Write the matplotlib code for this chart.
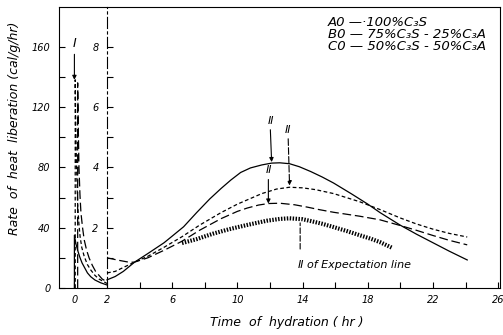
import numpy as np
import matplotlib
matplotlib.use("Agg")
import matplotlib.pyplot as plt
from matplotlib.ticker import FixedLocator

plt.rcParams['font.family'] = 'DejaVu Sans'
plt.rcParams['font.style'] = 'italic'

# ---- early period (0-2 hr), left scale (cal/g/hr)
t_a_early = [0, 0, 0.1, 0.2, 0.33, 0.47, 0.65, 0.8, 1.0, 1.26, 1.6, 2.0]
a_early = [0, 35, 29, 25, 20.5, 16.6, 13, 10, 7.5, 5.3, 3.5, 2]
t_b_early = [0.05, 0.05, 0.08, 0.12, 0.2, 0.28, 0.35, 0.45, 0.6, 0.8, 1.0,
             1.25, 1.5, 2.0]
b_early = [0, 138, 110, 85, 55, 42, 34, 27, 21, 15.5, 12, 8.5, 6, 3]
t_c_early = [0.2, 0.2, 0.24, 0.28, 0.34, 0.4, 0.5, 0.6, 0.75, 0.9, 1.1, 1.3,
             1.7, 2.0]
c_early = [0, 136, 105, 80, 62, 50, 40, 32, 25, 20, 15, 11, 6, 4]

# ---- later period (2-24 hr), inner scale
t_a = [2.0, 2.5, 3.0, 3.7, 4.5, 5.5, 6.0, 6.7, 7.5, 8.3, 9.0, 9.6, 10.2,
       10.8, 11.5, 12.1, 12.6, 13.2, 13.8, 14.5, 15.2, 15.9, 17.0, 18.0,
       18.75, 20.0, 21.0, 22.0, 23.0, 24.1]
a_late = [0.27, 0.38, 0.55, 0.86, 1.14, 1.5, 1.72, 2.03, 2.5, 2.95, 3.3,
          3.58, 3.83, 3.98, 4.08, 4.14, 4.15, 4.12, 4.02, 3.86, 3.68, 3.48,
          3.12, 2.78, 2.5, 2.08, 1.78, 1.5, 1.22, 0.93]
t_b = [2.0, 2.5, 3.0, 3.7, 4.5, 5.5, 6.6, 7.7, 9.0, 10.0, 10.6, 11.5, 12.4,
       13.2, 14.0, 14.8, 15.9, 17.5, 18.75, 20.0, 21.0, 22.0, 23.0, 24.1]
b_late = [0.5, 0.55, 0.68, 0.86, 1.05, 1.35, 1.7, 2.09, 2.5, 2.78, 2.92, 3.13,
          3.28, 3.34, 3.32, 3.26, 3.13, 2.86, 2.6, 2.32, 2.12, 1.95, 1.81,
          1.69]
t_c = [2.0, 2.7, 3.4, 3.7, 4.5, 5.5, 6.6, 7.7, 9.0, 10.0, 10.6, 11.3, 11.9,
       12.6, 13.5, 14.3, 15.0, 15.9, 17.5, 18.75, 20.0, 21.0, 22.0, 23.0,
       24.1]
c_late = [1.0, 0.92, 0.85, 0.86, 1.0, 1.25, 1.55, 1.92, 2.3, 2.54, 2.65, 2.75,
          2.8, 2.81, 2.76, 2.68, 2.6, 2.51, 2.38, 2.26, 2.07, 1.91, 1.74,
          1.58, 1.43]
t_exp = [6.6, 7.5, 8.5, 9.5, 10.6, 11.8, 12.6, 13.2, 14.0, 14.5, 15.2, 15.9,
         16.7, 17.5, 18.2, 18.75, 19.5]
exp_line = [1.49, 1.62, 1.8, 1.95, 2.09, 2.23, 2.29, 2.31, 2.28, 2.22, 2.13,
            2.02, 1.89, 1.75, 1.63, 1.52, 1.33]

legend_lines = ["A0 —·100%C₃S", "B0 — 75%C₃S - 25%C₃A",
                "C0 — 50%C₃S - 50%C₃A"]

xticks = [0, 2, 6, 10, 14, 18, 22, 26]
xminor = [4, 8, 12, 16, 20, 24]
yticks = [0, 40, 80, 120, 160]
yminor = [20, 60, 100, 140]
inner_ticks = [2, 4, 6, 8]
inner_minor = [1, 3, 5, 7]

fig = plt.figure(figsize=(5.03, 3.35), dpi=100)
ax = fig.add_axes([0.1173, 0.1403, 0.8767, 0.8388])
ax.set_xlim(-0.945, 26.11)
ax.set_ylim(0, 186.3)

solid = '-'
short_dash = (0, (3, 2))
long_dash = (0, (7, 3))

ax.plot(t_a_early, a_early, color='k', lw=0.9, ls=solid)
ax.plot(t_b_early, b_early, color='k', lw=0.9, ls=short_dash)
ax.plot(t_c_early, c_early, color='k', lw=0.9, ls=long_dash)

ax2 = ax.twinx()
ax2.set_ylim(0, 186.3 / 20)
ax2.plot(t_a, a_late, color='k', lw=0.9, ls=solid)
ax2.plot(t_b, b_late, color='k', lw=0.9, ls=short_dash)
ax2.plot(t_c, c_late, color='k', lw=0.9, ls=long_dash)
ax2.plot(t_exp, exp_line, color='k', lw=3.0, ls=(0, (0.35, 0.35)))

for s in ['top', 'bottom', 'right']:
    ax2.spines[s].set_visible(False)
ax2.spines['left'].set_visible(True)
ax2.spines['left'].set_position(('data', 2))
ax2.spines['left'].set_linestyle((0, (10, 3, 2, 3)))
ax2.spines['left'].set_linewidth(0.8)
ax2.yaxis.tick_left()
ax2.yaxis.set_major_locator(FixedLocator(inner_ticks))
ax2.yaxis.set_minor_locator(FixedLocator(inner_minor))
ax2.tick_params(axis='y', which='both', direction='in', length=4, width=0.8,
                pad=6, labelsize=7)

for s in ax.spines.values():
    s.set_linewidth(0.8)
ax.xaxis.set_major_locator(FixedLocator(xticks))
ax.xaxis.set_minor_locator(FixedLocator(xminor))
ax.yaxis.set_major_locator(FixedLocator(yticks))
ax.yaxis.set_minor_locator(FixedLocator(yminor))
ax.tick_params(which='both', direction='in', length=4, width=0.8, pad=5,
               labelsize=7)
ax.tick_params(axis='y', pad=6)

ax.set_xlabel("Time  of  hydration ( hr )", fontsize=9)
ax.xaxis.set_label_coords(0.517, -0.1)
ax.set_ylabel("Rate  of  heat  liberation (cal/g/hr)", fontsize=9)
ax.yaxis.set_label_coords(-0.086, 0.57)

# legend-like text block
for i, line in enumerate(legend_lines):
    ax.text(15.55, 175.7 - 7.7 * i, line, fontsize=9.5, ha='left',
            va='center')

arrow = dict(arrowstyle='-|>', color='k', lw=0.8, mutation_scale=6,
             shrinkA=1, shrinkB=0)
ax.annotate("Ⅰ", xy=(0.0, 138), xytext=(0.0, 162), ha='center', va='center',
            fontsize=9, arrowprops=arrow)
ax.annotate("Ⅱ", xy=(12.1, 83.5), xytext=(12.0, 111), ha='center',
            va='center', fontsize=8, arrowprops=arrow)
ax.annotate("Ⅱ", xy=(13.2, 68), xytext=(13.1, 105), ha='center',
            va='center', fontsize=8,
            arrowprops=dict(arrow, ls=(0, (6, 2))))
ax.annotate("Ⅱ", xy=(11.9, 56), xytext=(11.9, 78), ha='center',
            va='center', fontsize=8, arrowprops=arrow)
ax.annotate("", xy=(13.85, 45), xytext=(13.85, 24),
            arrowprops=dict(arrowstyle='-', color='k', lw=0.8,
                            ls=(0, (5, 2))))
ax.text(13.7, 15.3, "Ⅱ of Expectation line", fontsize=8, ha='left',
        va='center')

fig.savefig("out.png", dpi=100)
